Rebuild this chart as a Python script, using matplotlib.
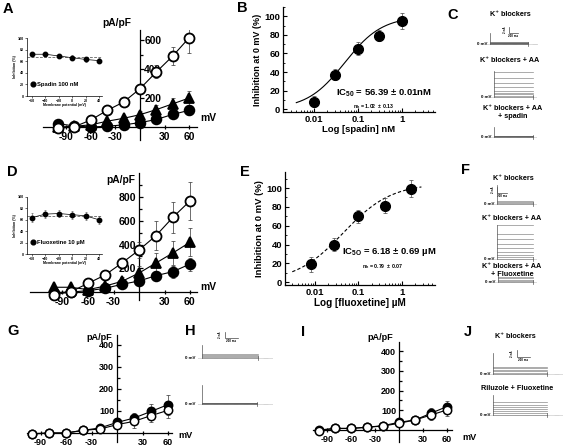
import matplotlib
matplotlib.use('Agg')
import matplotlib.pyplot as plt
import numpy as np

plt.rcParams['font.family'] = ['Liberation Sans', 'DejaVu Sans']
plt.rcParams['font.weight'] = 'bold'
plt.rcParams['axes.labelweight'] = 'bold'
plt.rcParams['mathtext.fontset'] = 'custom'
plt.rcParams['mathtext.rm'] = 'Liberation Sans:bold'
plt.rcParams['mathtext.it'] = 'Liberation Sans:bold'
plt.rcParams['mathtext.bf'] = 'Liberation Sans:bold'

W, H = 563, 447
fig = plt.figure(figsize=(W / 100, H / 100), dpi=100)
fig.patch.set_facecolor('white')

# ---------------- data ----------------
volt = [-100, -80, -60, -40, -20, 0, 20, 40, 60]

A_aa = [-10, 2, 48, 115, 172, 264, 380, 490, 616]
A_aa_err = [12, 10, 15, 20, 25, 35, 45, 60, 105]
A_tri = [0, 5, 15, 40, 60, 85, 120, 160, 200]
A_tri_err = [8, 8, 10, 12, 15, 25, 35, 40, 45]
A_spa = [23, 7, 0, 5, 15, 30, 52, 87, 115]
A_spa_err = [8, 6, 8, 10, 12, 15, 20, 25, 30]

D_aa = [-25, 3, 73, 143, 245, 354, 476, 631, 769]
D_aa_err = [10, 10, 25, 35, 45, 70, 120, 130, 160]
D_tri = [40, 40, 20, 50, 90, 160, 245, 330, 420]
D_tri_err = [10, 10, 15, 25, 40, 60, 80, 100, 120]
D_flx = [-5, 0, 11, 31, 65, 93, 138, 172, 236]
D_flx_err = [8, 8, 10, 15, 20, 30, 40, 50, 55]

inset_v = [-60, -40, -20, 0, 20, 40]
A_in = [72, 72, 69, 66, 63, 61]
A_in_err = [3, 3, 4, 4, 4, 4]
A_in_mean = 67
D_in = [64, 70, 71, 69, 67, 60]
D_in_err = [8, 7, 6, 7, 7, 7]
D_in_mean = 66

conc_spadin = [0.01, 0.03, 0.1, 0.3, 1.0]
inh_spadin = [8, 37, 65, 79, 95]
inh_spadin_err = [6, 6, 7, 6, 9]
hill_spadin = (100.0, 0.05, 1.02)      # top, IC50 (axis units), nH

conc_flx = [0.008, 0.028, 0.1, 0.4, 1.6]
inh_flx = [19, 40, 70, 81, 99]
inh_flx_err = [8, 7, 7, 8, 9]
hill_flx = (105.0, 0.045, 0.79)

G_ctrl = [-3, 0, 0, 12, 23, 48, 68, 98, 129]
G_ctrl_err = [8, 8, 10, 12, 15, 20, 25, 35, 45]
G_flx = [-5, 0, 0, 12, 18, 38, 53, 79, 103]
G_flx_err = [8, 8, 10, 12, 15, 20, 30, 30, 35]

I_ctrl = [0, 8, 8, 14, 22, 39, 51, 85, 119]
I_ctrl_err = [8, 8, 8, 10, 12, 15, 20, 25, 30]
I_flx = [-3, 8, 8, 14, 20, 34, 51, 76, 102]
I_flx_err = [8, 8, 8, 10, 12, 15, 20, 25, 30]

# current traces (nA): steady levels of the step family, and onset transient
C1_levels, C1_tr = [0, 0.2, 0.4, 0.6], 3.7
C2_levels, C2_tr = [0, 0.3, 1.0, 1.3, 2.0, 3.3, 4.7, 6.3, 8.3], 8.7
C3_levels, C3_tr = [0, 0.2, 0.4], 3.3
F1_levels, F1_tr = [0, 0.3, 0.6, 1.0], 6.3
F2_levels, F2_tr = [0, 0.7, 1.3, 2.3, 3.7, 5.0, 6.7, 8.3, 11.3], 11.5
F3_levels, F3_tr = [0, 0.4, 0.8, 1.2, 1.7], 2.3
H1_levels, H1_tr = [0, 0.3, 0.6, 1.0, 1.3], 4.3
H2_levels, H2_tr = [0, 0.2, 0.4], 6.3
J1_levels, J1_tr = [0, 0.4, 0.8, 1.2, 1.6, 2.0], 6.0
J2_levels, J2_tr = [0, 0.6, 1.2, 1.8, 2.4, 3.0, 3.7], 5.7


# ---------------- helpers ----------------
def ax_px(l, t, r, b):
    return fig.add_axes([l / W, 1 - b / H, (r - l) / W, (b - t) / H])


def ftext(x, y, s, size, ha='center', va='center', **kw):
    return fig.text(x / W, 1 - y / H, s, fontsize=size, ha=ha, va=va, **kw)


def mapped_axes(x0, y0, pxx, pxy, xlim, ylim):
    l = x0 + xlim[0] * pxx
    r = x0 + xlim[1] * pxx
    t = y0 - ylim[1] * pxy
    b = y0 - ylim[0] * pxy
    ax = ax_px(l, t, r, b)
    ax.set_xlim(xlim)
    ax.set_ylim(ylim)
    ax.patch.set_alpha(0)
    return ax


def iv_axes(x0, y0, pxx, pxy, xlim, ylim, yticks, yminor, fs, lw=0.9, labels_right=False):
    ax = mapped_axes(x0, y0, pxx, pxy, xlim, ylim)
    ax.spines['top'].set_visible(False)
    ax.spines['right'].set_visible(False)
    ax.spines['left'].set_position(('data', 0))
    ax.spines['right'].set_position(('data', 0))
    ax.spines['bottom'].set_position(('data', 0))
    for s in ['left', 'bottom']:
        ax.spines[s].set_linewidth(lw)
    ax.set_xticks([-90, -60, -30, 30, 60])
    ax.set_xticklabels(['-90', '-60', '-30', '30', '60'])
    ax.set_yticks(yticks)
    ax.set_yticks(yminor, minor=True)
    ax.tick_params(axis='both', labelsize=fs, width=lw, length=3, direction='in', pad=2)
    ax.tick_params(axis='y', which='minor', width=lw, length=2, direction='in')
    ax.tick_params(axis='x', direction='inout', length=3)
    if labels_right:
        ax.tick_params(axis='y', which='both', left=True, right=False,
                       labelleft=False, labelright=True, pad=3)
    return ax


def iv_series(ax, y, err, marker, face, ms, mew=1.3):
    ax.errorbar(volt, y, yerr=err, fmt='none', ecolor='#333333', elinewidth=0.5,
                capsize=1.2, capthick=0.5, zorder=3)
    ax.plot(volt, y, color='black', lw=0.8, marker=marker, ms=ms, mfc=face,
            mec='black', mew=mew, zorder=4, clip_on=False)


def inset(l, t, r, b, vals, err, mean, label):
    ax = ax_px(l, t, r, b)
    ax.set_xlim(-67.5, 44.5)
    ax.set_ylim(0, 100)
    ax.patch.set_alpha(0)
    for s in ['top', 'right']:
        ax.spines[s].set_visible(False)
    for s in ['left', 'bottom']:
        ax.spines[s].set_linewidth(0.5)
    ax.set_xticks(inset_v)
    ax.set_yticks([0, 20, 40, 60, 80, 100])
    ax.tick_params(labelsize=2.6, length=1.2, width=0.4, pad=0.8)
    ax.axhline(mean, color='#444444', lw=0.5, ls=(0, (4, 2)))
    ax.errorbar(inset_v, vals, yerr=err, fmt='none', ecolor='#555555', elinewidth=0.4,
                capsize=0.8, capthick=0.4)
    ax.plot(inset_v, vals, color='black', lw=0.5, marker='o', ms=3.2,
            mfc='black', mec='black')
    ax.set_ylabel('Inhibition (%)', fontsize=2.6, labelpad=1)
    ax.set_xlabel('Membrane potential (mV)', fontsize=2.6, labelpad=0.5)
    hl, = ax.plot([], [], 'o', color='black', ms=3.4)
    ax.legend([hl], [label], loc='lower left', bbox_to_anchor=(0.0, 0.1),
              frameon=False, fontsize=4.2, handletextpad=0.3, handlelength=0.8,
              borderaxespad=0.2)
    return ax


def dose_axes(l, t, r, b, xlim, ylim):
    ax = ax_px(l, t, r, b)
    ax.set_xscale('log')
    ax.set_xlim(xlim)
    ax.set_ylim(ylim)
    ax.patch.set_alpha(0)
    for s in ['top', 'right']:
        ax.spines[s].set_visible(False)
    for s in ['left', 'bottom']:
        ax.spines[s].set_linewidth(0.9)
    ax.set_yticks([0, 20, 40, 60, 80, 100])
    ax.set_yticks([10, 30, 50, 70, 90, 110], minor=True)
    ax.set_xticks([0.01, 0.1, 1])
    ax.set_xticklabels(['0.01', '0.1', '1'])
    ax.tick_params(axis='both', labelsize=6.8, direction='in', length=3, width=0.8, pad=2)
    ax.tick_params(axis='both', which='minor', direction='in', length=1.5, width=0.6)
    return ax


def hill(x, p):
    top, ic, n = p
    x = np.asarray(x)
    return top / (1 + (ic / x) ** n)


def draw_trace(x0, y0, pxs, pxn, dur, levels, transient, base_end, color='#8a8a8a'):
    ax = mapped_axes(x0, y0, pxs, pxn, (-0.08, base_end), (-1.5, transient + 0.5))
    ax.axis('off')
    ax.plot([-0.06, base_end], [0, 0], color='#777777', lw=0.4, ls=(0, (1, 1)))
    for lv in levels:
        ax.plot([0, dur], [lv, lv], color=color, lw=0.5)
    ax.plot([0, 0], [0, transient], color='#555555', lw=0.5)
    ax.plot([dur, dur], [-0.7, 0.7], color='#555555', lw=0.5)
    return ax


def scale_bar(x0, y0, pxs, pxn):
    ax = mapped_axes(x0, y0, pxs, pxn, (-0.15, 0.3), (-1.0, 2.2))
    ax.axis('off')
    ax.plot([0, 0, 0.2], [2, 0, 0], color='#444444', lw=0.5)
    ax.text(-0.04, 1.0, '2 nA', fontsize=2.2, rotation=90, ha='right', va='center')
    ax.text(0.1, -0.35, '200 ms', fontsize=2.2, ha='center', va='top')


# ---------------- panel A ----------------
axA = iv_axes(140, 127, 0.82, 0.145, (-118, 70), (-90, 670),
              [200, 400, 600], [100, 300, 500], 7.4, labels_right=True)
iv_series(axA, A_spa, A_spa_err, 'o', 'black', 7.0)
iv_series(axA, A_tri, A_tri_err, '^', 'black', 7.0)
iv_series(axA, A_aa, A_aa_err, 'o', 'white', 7.2)
ftext(131, 23, 'pA/pF', 7.4, ha='right')
ftext(200, 118, 'mV', 7.4, ha='left')
inset(27, 38, 102, 96, A_in, A_in_err, A_in_mean, 'Spadin 100 nM')

# ---------------- panel D ----------------
axD = iv_axes(139, 292, 0.85, 0.1185, (-128, 68), (-68, 1004),
              [200, 400, 600, 800], [100, 300, 500, 700, 900], 7.6)
iv_series(axD, D_flx, D_flx_err, 'o', 'black', 7.0)
iv_series(axD, D_tri, D_tri_err, '^', 'black', 7.0)
iv_series(axD, D_aa, D_aa_err, 'o', 'white', 7.2)
ftext(135, 180, 'pA/pF', 7.4, ha='right')
ftext(200, 287, 'mV', 7.4, ha='left')
inset(27, 197, 102, 254, D_in, D_in_err, D_in_mean, 'Fluoxetine 10 µM')

# ---------------- panel B ----------------
axB = dose_axes(283, 7, 435, 112, (10 ** -2.7, 10 ** 0.75), (-3, 110))
xs = np.logspace(np.log10(0.004), 0, 200)
axB.plot(xs, hill(xs, hill_spadin), color='black', lw=0.8)
axB.errorbar(conc_spadin, inh_spadin, yerr=inh_spadin_err, fmt='o', color='black',
             ms=7, ecolor='#444444', elinewidth=0.5, capsize=1.2, capthick=0.5)
axB.set_ylabel('Inhibition at 0 mV (%)', fontsize=6.5, labelpad=2)
axB.set_xlabel('Log [spadin] nM', fontsize=6.8, labelpad=1)
ftext(336, 93, r'IC$_{50}$ = 56.39 ± 0.01nM', 6.8, ha='left')
ftext(353, 107, r'n$_{h}$ = 1.02  ± 0.13', 3.8, ha='left')

# ---------------- panel E ----------------
axE = dose_axes(285, 172, 435, 285, (10 ** -2.69, 10 ** 0.76), (-3, 117))
xs = np.logspace(np.log10(0.003), np.log10(2.8), 200)
axE.plot(xs, hill(xs, hill_flx), color='black', lw=0.8, ls=(0, (3, 2)))
axE.errorbar(conc_flx, inh_flx, yerr=inh_flx_err, fmt='o', color='black',
             ms=7, ecolor='#444444', elinewidth=0.5, capsize=1.2, capthick=0.5)
axE.set_ylabel('Inhibition at 0 mV (%)', fontsize=6.8, labelpad=2)
axE.set_xlabel('Log [fluoxetine] µM', fontsize=7.2, labelpad=1)
ftext(342, 252, r'IC$_{5O}$ = 6.18 ± 0.69 µM', 6.8, ha='left')
ftext(362, 267, r'n$_{h}$ = 0.79  ± 0.07', 3.8, ha='left')

# ---------------- panel G ----------------
axG = iv_axes(117, 433, 0.85, 0.22, (-106, 65), (-41, 445),
              [100, 200, 300, 400], [50, 150, 250, 350], 6.5)
iv_series(axG, G_ctrl, G_ctrl_err, 'o', 'black', 6.0, mew=1.1)
iv_series(axG, G_flx, G_flx_err, 'o', 'white', 6.0, mew=1.1)
ftext(112, 338, 'pA/pF', 6.6, ha='right')
ftext(178, 436, 'mV', 6.6, ha='left')

# ---------------- panel I ----------------
axI = iv_axes(399, 430, 0.8, 0.197, (-107, 66), (-61, 447),
              [100, 200, 300, 400], [50, 150, 250, 350], 6.5)
iv_series(axI, I_ctrl, I_ctrl_err, 'o', 'black', 6.0, mew=1.1)
iv_series(axI, I_flx, I_flx_err, 'o', 'white', 6.0, mew=1.1)
ftext(393, 338, 'pA/pF', 6.6, ha='right')
ftext(462, 437, 'mV', 6.6, ha='left')

# ---------------- traces C ----------------
ftext(510, 14, 'K⁺ blockers', 5.2)
scale_bar(509, 33, 45, 3)
draw_trace(490, 44, 45, 3, 0.85, C1_levels, C1_tr, 1.07, color='#555555')
ftext(487, 44, '0 mV', 3.2, ha='right')
ftext(510, 61, 'K⁺ blockers + AA', 5.2)
draw_trace(494, 97, 45, 3, 0.87, C2_levels, C2_tr, 0.96)
ftext(491, 97, '0 mV', 3.2, ha='right')
ftext(513, 109, 'K⁺ blockers + AA', 5.2)
ftext(513, 117, '+ spadin', 5.2)
draw_trace(494, 137, 45, 3, 0.87, C3_levels, C3_tr, 0.96, color='#555555')
ftext(491, 137, '0 mV', 3.2, ha='right')

# ---------------- traces F ----------------
ftext(513, 178, 'K⁺ blockers', 5.2)
scale_bar(497, 193, 50, 3)
draw_trace(497, 204, 50, 3, 0.72, F1_levels, F1_tr, 0.8)
ftext(494, 204, '0 mV', 3.2, ha='right')
ftext(512, 218, 'K⁺ blockers + AA', 5.2)
draw_trace(497, 259, 50, 3, 0.72, F2_levels, F2_tr, 0.8)
ftext(494, 259, '0 mV', 3.2, ha='right')
ftext(512, 266, 'K⁺ blockers + AA', 5.2)
ftext(512, 274, '+ Fluoxetine', 5.2)
draw_trace(498, 282, 50, 3, 0.7, F3_levels, F3_tr, 0.78)
ftext(495, 282, '0 mV', 3.2, ha='right')

# ---------------- traces H ----------------
scale_bar(225, 338, 65, 3)
draw_trace(202, 358, 65, 3, 0.86, H1_levels, H1_tr, 1.09)
ftext(195, 358, '0 mV', 3.2, ha='right')
draw_trace(202, 404, 65, 3, 0.85, H2_levels, H2_tr, 1.09, color='#555555')
ftext(195, 404, '0 mV', 3.2, ha='right')

# ---------------- traces J ----------------
ftext(515, 337, 'K⁺ blockers', 5.2)
scale_bar(517, 357, 65, 3.5)
draw_trace(493, 374, 65, 3.5, 0.83, J1_levels, J1_tr, 1.08)
ftext(490, 374, '0 mV', 3.2, ha='right')
ftext(517, 388, 'Riluzole + Fluoxetine', 5.2)
draw_trace(493, 415, 65, 3.5, 0.83, J2_levels, J2_tr, 1.08)
ftext(490, 415, '0 mV', 3.2, ha='right')

# ---------------- panel letters ----------------
for lab, x, y in [('A', 8, 9), ('B', 242, 8), ('C', 453, 15), ('D', 12, 172),
                  ('E', 245, 172), ('F', 465, 170), ('G', 13, 331), ('H', 190, 331),
                  ('I', 303, 332), ('J', 468, 332)]:
    ftext(x, y, lab, 10.5)

fig.savefig('out.png', dpi=100, facecolor='white')
